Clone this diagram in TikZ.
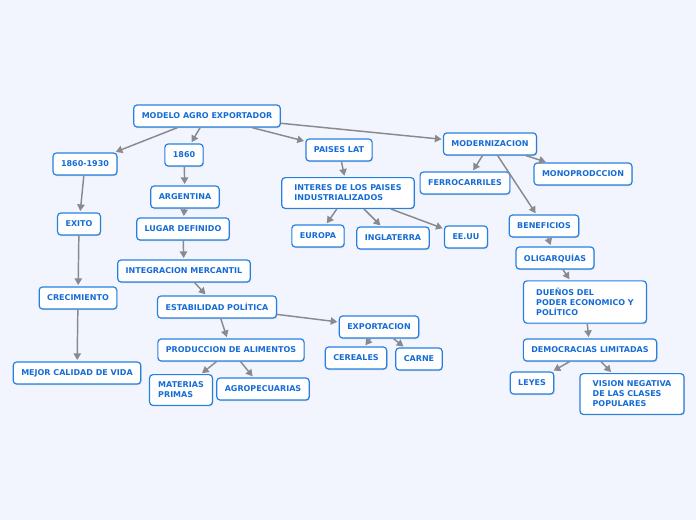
\documentclass[tikz,border=0pt]{standalone}
\usepackage{fontspec}
\setsansfont{DejaVu Sans}
\usetikzlibrary{arrows.meta,shadows}
\definecolor{bgblue}{RGB}{242,245,253}
\definecolor{boxblue}{RGB}{38,128,228}
\definecolor{textblue}{RGB}{22,108,214}
\definecolor{linegray}{RGB}{138,138,142}

\begin{document}
\begin{tikzpicture}[x=0.75pt,y=-0.75pt,shorten >=1pt,
    -{Triangle[length=5pt,width=5.5pt]},line width=1.1pt,draw=linegray]
  \tikzstyle{concept}=[rectangle,rounded corners=2.5pt,draw=boxblue,line width=0.9pt,
    fill=white,text=textblue,font=\sffamily\bfseries\fontsize{6}{7.5}\selectfont,
    minimum height=16.5pt,inner xsep=6pt,align=left,
    drop shadow={shadow xshift=0.6pt,shadow yshift=-0.8pt,fill=black!30,opacity=0.5}]
  \tikzstyle{multi}=[concept,inner xsep=9.5pt,inner ysep=5.5pt]
  \fill[bgblue] (0,0) rectangle (696,520);
  \useasboundingbox (0,0) rectangle (696,520);
  \node[concept] (modelo)   at (207,116) {MODELO AGRO EXPORTADOR};
  \node[concept] (periodo)  at (85,164)  {1860-1930};
  \node[concept] (anio)     at (184,155) {1860};
  \node[concept] (paises)   at (339,150) {PAISES LAT};
  \node[concept] (modern)   at (490,144) {MODERNIZACION};
  \node[concept] (argent)   at (185,197) {ARGENTINA};
  \node[concept] (lugar)    at (183,229) {LUGAR DEFINIDO};
  \node[multi]   (interes)  at (348,193) {INTERES DE LOS PAISES\\INDUSTRIALIZADOS};
  \node[concept] (ferro)    at (465,183) {FERROCARRILES};
  \node[concept] (mono)     at (583,174) {MONOPRODCCION};
  \node[concept] (exito)    at (79,224)  {EXITO};
  \node[concept] (europa)   at (318,236) {EUROPA};
  \node[concept] (ingla)    at (393,238) {INGLATERRA};
  \node[concept] (eeuu)     at (466,237) {EE.UU};
  \node[concept] (benef)    at (544,226) {BENEFICIOS};
  \node[concept] (oligar)   at (555,258) {OLIGARQUÍAS};
  \node[concept] (integra)  at (184,271) {INTEGRACION MERCANTIL};
  \node[concept] (crec)     at (78,298)  {CRECIMIENTO};
  \node[concept] (estab)    at (217,307) {ESTABILIDAD POLÍTICA};
  \node[multi]   (duenos)   at (585,302) {DUEÑOS DEL\\PODER ECONOMICO Y\\POLÍTICO};
  \node[concept] (export)   at (379,327) {EXPORTACION};
  \node[concept] (produc)   at (231,350) {PRODUCCION DE ALIMENTOS};
  \node[concept] (democ)    at (590,350) {DEMOCRACIAS LIMITADAS};
  \node[concept] (cereal)   at (356,358) {CEREALES};
  \node[concept] (carne)    at (419,359) {CARNE};
  \node[concept] (calidad)  at (77,373)  {MEJOR CALIDAD DE VIDA};
  \node[multi,inner xsep=6.5pt] (materias) at (181,390) {MATERIAS\\PRIMAS};
  \node[concept] (agro)     at (263,389) {AGROPECUARIAS};
  \node[concept] (leyes)    at (532,383) {LEYES};
  \node[multi]   (vision)   at (632,394) {VISION NEGATIVA\\DE LAS CLASES\\POPULARES};
  \draw (modelo) -- (periodo);
  \draw (modelo) -- (anio);
  \draw (modelo) -- (paises);
  \draw (modelo) -- (modern);
  \draw (periodo) -- (exito);
  \draw (exito) -- (crec);
  \draw (crec) -- (calidad);
  \draw (anio) -- (argent);
  \draw (argent) -- (lugar);
  \draw (lugar) -- (integra);
  \draw (integra) -- (estab);
  \draw (estab) -- (produc);
  \draw (estab) -- (export);
  \draw (produc) -- (materias);
  \draw (produc) -- (agro);
  \draw (export) -- (cereal);
  \draw (export) -- (carne);
  \draw (paises) -- (interes);
  \draw (interes) -- (europa);
  \draw (interes) -- (ingla);
  \draw (interes) -- (eeuu);
  \draw (modern) -- (ferro);
  \draw (modern) -- (mono);
  \draw (modern) -- (benef);
  \draw (benef) -- (oligar);
  \draw (oligar) -- (duenos);
  \draw (duenos) -- (democ);
  \draw (democ) -- (leyes);
  \draw (democ) -- (vision);
\end{tikzpicture}
\end{document}
